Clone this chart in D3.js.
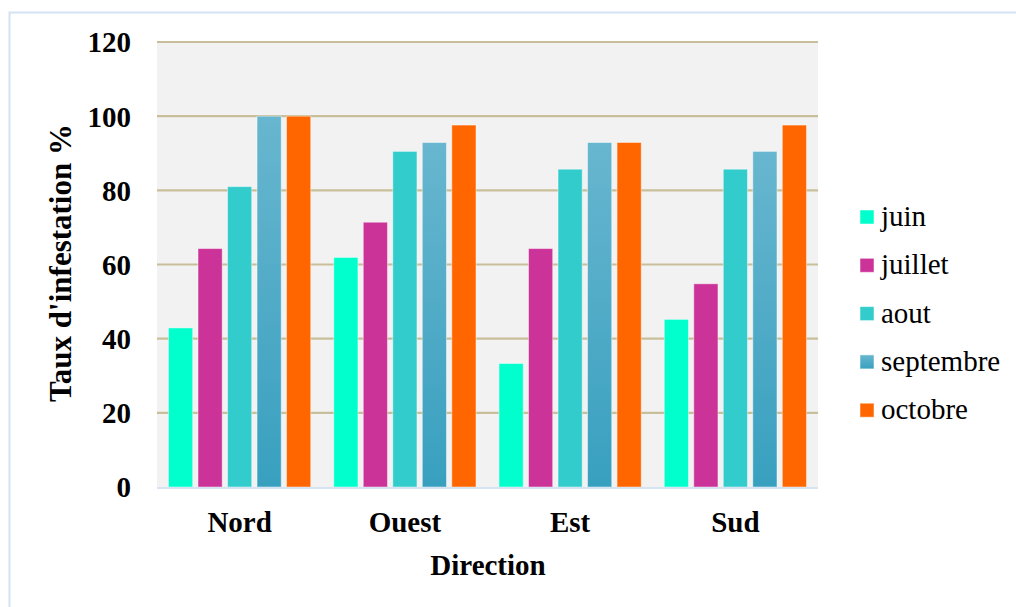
<!DOCTYPE html>
<html>
<head>
<meta charset="utf-8">
<script src="https://cdn.jsdelivr.net/npm/d3@7/dist/d3.min.js"></script>
<style>
  html, body { margin: 0; padding: 0; background: #ffffff; }
  svg { display: block; }
  text { font-family: "Liberation Serif", "Times New Roman", serif; fill: #000; }
</style>
</head>
<body>
<svg id="chart" width="1016" height="607"></svg>
<script>
// Infestation rate (%) by direction and month
const directions = ["Nord", "Ouest", "Est", "Sud"];
const months = ["juin", "juillet", "aout", "septembre", "octobre"];
const juin      = [42.9, 61.9, 33.3, 45.2];
const juillet   = [64.3, 71.4, 64.3, 54.8];
const aout      = [81.0, 90.5, 85.7, 85.7];
const septembre = [100, 92.9, 92.9, 90.5];
const octobre   = [100, 97.6, 92.9, 97.6];
const yTicks = [0, 20, 40, 60, 80, 100, 120];

const seriesByMonth = { juin, juillet, aout, septembre, octobre };
const rows = directions.map((d, i) => ({
  direction: d,
  values: months.map(m => ({ month: m, value: seriesByMonth[m][i] }))
}));

const FONT = "'Liberation Serif', 'Times New Roman', serif";
const FS = "29px";

const svg = d3.select("#chart");
const defs = svg.append("defs");
const grad = defs.append("linearGradient")
  .attr("id", "septGrad").attr("x1", 0).attr("y1", 0).attr("x2", 0).attr("y2", 1);
grad.append("stop").attr("offset", "0%").attr("stop-color", "#68b6cf");
grad.append("stop").attr("offset", "100%").attr("stop-color", "#38a0bf");

const colors = {
  juin: "#00ffcc",
  juillet: "#cc3399",
  aout: "#33cccc",
  septembre: "url(#septGrad)",
  octobre: "#ff6600"
};

// outer frame
svg.append("rect")
  .attr("x", 9.5).attr("y", 12.5).attr("width", 1020).attr("height", 620)
  .attr("fill", "none").attr("stroke", "#d3e2f4").attr("stroke-width", 2);

const plot = { left: 157, right: 818, top: 42, bottom: 487 };

const x0 = d3.scaleBand().domain(directions).range([plot.left, plot.right]).padding(0);
const x1 = d3.scaleBand().domain(months).range([0, x0.bandwidth()])
  .paddingInner(0.18).paddingOuter(0.39);
const y = d3.scaleLinear().domain([0, 120]).range([plot.bottom, plot.top]);

// plot background
svg.append("rect")
  .attr("x", plot.left).attr("y", plot.top)
  .attr("width", plot.right - plot.left).attr("height", plot.bottom - plot.top)
  .attr("fill", "#f2f2f2");

// gridlines
svg.append("g").selectAll("line")
  .data(yTicks.filter(t => t > 0))
  .join("line")
  .attr("x1", plot.left).attr("x2", plot.right)
  .attr("y1", d => y(d)).attr("y2", d => y(d))
  .attr("stroke", "#c8bf9a").attr("stroke-width", 2.2);

// bars
const groups = svg.append("g").selectAll("g")
  .data(rows)
  .join("g")
  .attr("transform", d => `translate(${x0(d.direction)},0)`);

groups.selectAll("rect")
  .data(d => d.values)
  .join("rect")
  .attr("x", d => x1(d.month))
  .attr("width", x1.bandwidth())
  .attr("y", d => y(d.value))
  .attr("height", d => y(0) - y(d.value))
  .attr("fill", d => colors[d.month])
  .attr("stroke", "rgba(255,255,255,0.45)")
  .attr("stroke-width", 1);

// baseline
svg.append("line")
  .attr("x1", plot.left).attr("x2", plot.right)
  .attr("y1", plot.bottom + 1).attr("y2", plot.bottom + 1)
  .attr("stroke", "#d6e3f3").attr("stroke-width", 2);

// y axis
const yAxis = d3.axisLeft(y).tickValues(yTicks).tickSize(0).tickPadding(0);
const yg = svg.append("g").attr("transform", "translate(131,0)").call(yAxis);
yg.select(".domain").remove();
yg.selectAll("text")
  .style("font-family", FONT)
  .style("font-size", FS).style("font-weight", "bold").attr("fill", "#000")
  .attr("dy", "0.34em");

// x axis
const xAxis = d3.axisBottom(x0).tickSize(0).tickPadding(0);
const xg = svg.append("g").attr("transform", `translate(0,${plot.bottom})`).call(xAxis);
xg.select(".domain").remove();
xg.selectAll("text")
  .style("font-family", FONT)
  .style("font-size", FS).style("font-weight", "bold").attr("fill", "#000")
  .attr("y", 45).attr("dy", 0);

// axis titles
svg.append("text")
  .attr("x", 488).attr("y", 575)
  .attr("text-anchor", "middle")
  .style("font-size", FS).style("font-weight", "bold")
  .text("Direction");

svg.append("text")
  .attr("transform", "translate(71,263) rotate(-90)")
  .attr("text-anchor", "middle")
  .style("font-size", "31px").style("font-weight", "bold")
  .text("Taux d'infestation %");

// legend
const legend = svg.append("g").attr("transform", "translate(860,210)");
const item = legend.selectAll("g")
  .data(months)
  .join("g")
  .attr("transform", (d, i) => `translate(0,${i * 48.3})`);
item.append("rect")
  .attr("width", 14).attr("height", 14)
  .attr("fill", d => colors[d])
  .attr("stroke", "rgba(255,255,255,0.5)").attr("stroke-width", 1);
item.append("text")
  .attr("x", 21).attr("y", 16)
  .style("font-size", FS)
  .text(d => d);
</script>
</body>
</html>
